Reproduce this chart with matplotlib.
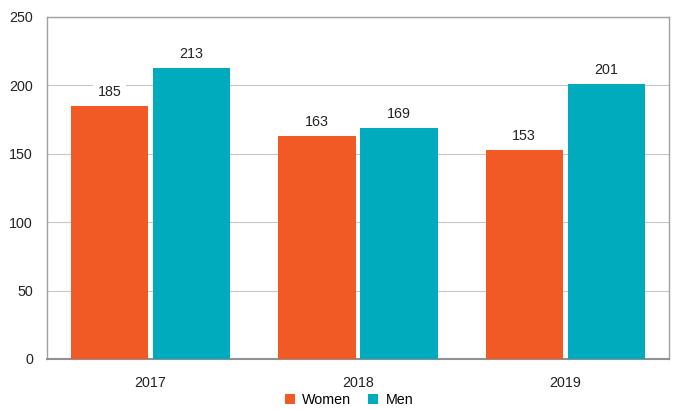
import matplotlib
matplotlib.use("Agg")
import matplotlib.pyplot as plt
import numpy as np

categories = ["2017", "2018", "2019"]
women = [185, 163, 153]
men = [213, 169, 201]
series_names = ["Women", "Men"]
yticks = [0, 50, 100, 150, 200, 250]

plt.rcParams['font.family'] = ['Liberation Sans', 'DejaVu Sans']

c_w = "#F15A24"
c_m = "#00ABBD"

fig = plt.figure(figsize=(6.73, 4.09), dpi=100)
ax = fig.add_axes([47/673, 1-359/409, 622/673, 342/409])

x = np.arange(len(categories))
w = 0.372
off = 0.198
b1 = ax.bar(x - off, women, w, color=c_w, label=series_names[0], zorder=3)
b2 = ax.bar(x + off, men, w, color=c_m, label=series_names[1], zorder=3)

for bars in (b1, b2):
    for r in bars:
        ax.annotate(f"{int(r.get_height())}", (r.get_x() + r.get_width()/2, r.get_height()),
                    xytext=(0, 5), textcoords="offset points", ha="center", va="bottom",
                    fontsize=10.3, color="#222222", zorder=4,
                    bbox=dict(boxstyle="square,pad=0.3", fc="white", ec="none"))

ax.set_xlim(-0.5, 2.5)
ax.set_ylim(0, 250)
ax.set_yticks(yticks)
ax.set_xticks(x)
ax.set_xticklabels(categories)
ax.tick_params(axis='both', length=0, labelsize=10.3, colors="#222222")
ax.tick_params(axis='x', pad=12)
ax.tick_params(axis='y', pad=10)
ax.yaxis.grid(True, color="#c8c8c8", linewidth=0.8, zorder=0)
ax.set_axisbelow(True)
for s in ["left", "top", "right"]:
    ax.spines[s].set_color("#a0a0a0")
    ax.spines[s].set_linewidth(1.0)
ax.spines["bottom"].set_color("#909090")
ax.spines["bottom"].set_linewidth(1.5)

fig.legend(handles=[b1, b2], labels=series_names, loc="center", bbox_to_anchor=(349/673, 1-400/409),
           ncol=2, frameon=False, fontsize=10.3, handlelength=0.7, handleheight=0.7,
           handletextpad=0.5, columnspacing=1.2)

fig.savefig("out.png", dpi=100)
